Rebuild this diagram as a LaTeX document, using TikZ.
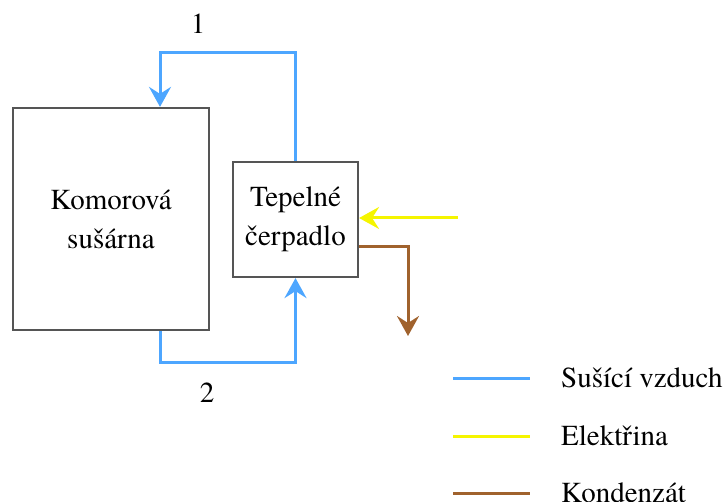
\documentclass[tikz,border=0pt]{standalone}
\usepackage{fontspec}
\setmainfont{TeX Gyre Termes}
\usetikzlibrary{arrows.meta}
\definecolor{airblue}{HTML}{4DA6FF}
\definecolor{elyellow}{HTML}{F5F500}
\definecolor{condbrown}{HTML}{A0622D}
\definecolor{boxline}{HTML}{555555}
\tikzset{
  boxnode/.style={draw=boxline, line width=2.2pt, fill=white, align=center, inner sep=0pt,
    font=\rmfamily\fontsize{29}{39}\selectfont},
  flow/.style={line width=3pt, line cap=butt},
  tip/.style={-{Stealth[length=20pt,width=22pt,inset=7pt]}},
  lbl/.style={font=\rmfamily\fontsize{29}{35}\selectfont, inner sep=0pt},
}
\begin{document}
\begin{tikzpicture}[x=1pt,y=-1pt]
\useasboundingbox (0,0) rectangle (726,502);
\node[boxnode, minimum width=196pt, minimum height=222pt] (km) at (111,219) {Komorová\\sušárna};
\node[boxnode, minimum width=125pt, minimum height=115pt] (tc) at (295.5,219.5) {Tepelné\\čerpadlo};
\coordinate (k1) at (160,53);
\coordinate (k2) at (160,363);
\coordinate (y0) at (458,218);
\coordinate (b0) at (408,247);
\coordinate (b1) at (408,336);
\draw[flow, airblue, tip] (tc.north) |- (k1) -- (k1 |- km.north);
\draw[flow, airblue, tip] (km.south -| k2) -- (k2) -| (tc.south);
\draw[flow, elyellow, tip] (y0) -- (y0 -| tc.east);
\draw[flow, condbrown, tip] (b0 -| tc.east) -- (b0) -- (b1);
\node[lbl] (n1) at (198,24) {1};
\node[lbl] (n2) at (207,393) {2};
\coordinate (l1a) at (453,379); \coordinate (l1b) at (530,379);
\coordinate (l2a) at (453,437); \coordinate (l2b) at (530,437);
\coordinate (l3a) at (453,494); \coordinate (l3b) at (530,494);
\draw[flow, airblue] (l1a) -- (l1b);
\draw[flow, elyellow] (l2a) -- (l2b);
\draw[flow, condbrown] (l3a) -- (l3b);
\node[lbl, anchor=west] (t1) at (561,378) {Sušící vzduch};
\node[lbl, anchor=west] (t2) at (561,436) {Elektřina};
\node[lbl, anchor=west] (t3) at (561,493) {Kondenzát};
\end{tikzpicture}
\end{document}
